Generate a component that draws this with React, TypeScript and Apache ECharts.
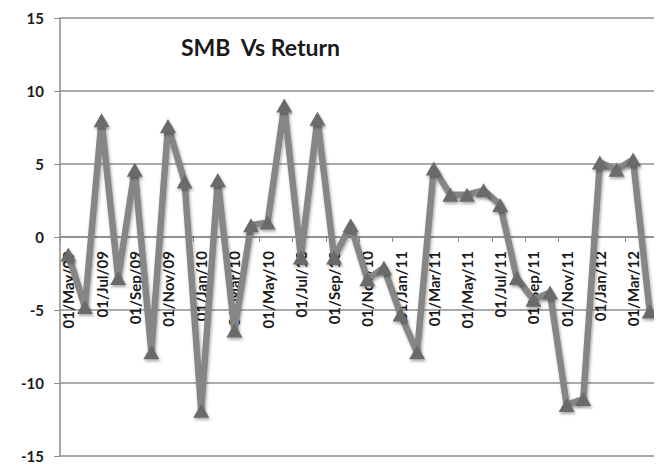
import React, { useEffect, useRef } from "react";
import * as echarts from "echarts";

const categories: string[] = [
  "01/May/09", "01/Jun/09", "01/Jul/09", "01/Aug/09", "01/Sep/09", "01/Oct/09",
  "01/Nov/09", "01/Dec/09", "01/Jan/10", "01/Feb/10", "01/Mar/10", "01/Apr/10",
  "01/May/10", "01/Jun/10", "01/Jul/10", "01/Aug/10", "01/Sep/10", "01/Oct/10",
  "01/Nov/10", "01/Dec/10", "01/Jan/11", "01/Feb/11", "01/Mar/11", "01/Apr/11",
  "01/May/11", "01/Jun/11", "01/Jul/11", "01/Aug/11", "01/Sep/11", "01/Oct/11",
  "01/Nov/11", "01/Dec/11", "01/Jan/12", "01/Feb/12", "01/Mar/12", "01/Apr/12",
];

const smbValues: number[] = [
  -1.2, -4.8, 8.0, -2.8, 4.6, -7.9,
  7.6, 3.8, -11.9, 3.9, -6.4, 0.8,
  1.0, 9.0, -1.4, 8.1, -1.4, 0.8,
  -2.9, -2.1, -5.3, -7.9, 4.7, 2.9,
  2.9, 3.2, 2.2, -2.8, -4.3, -3.8,
  -11.5, -11.1, 5.1, 4.6, 5.3, -5.1,
];

const yTicks = { min: -15, max: 15, interval: 5 };

const GRID_TOP = 10;
const GRID_BOTTOM = 8;
const CHART_H = 456;

export default function App() {
  const ref = useRef<HTMLDivElement>(null);
  useEffect(() => {
    if (!ref.current) return;
    const chart = echarts.init(ref.current, undefined, { renderer: "svg" });
    const plotH = CHART_H - GRID_TOP - GRID_BOTTOM;
    const zeroFromBottom = (plotH * (0 - yTicks.min)) / (yTicks.max - yTicks.min);
    chart.setOption({
      animation: false,
      backgroundColor: "#ffffff",
      title: {
        text: "SMB  Vs Return",
        left: 168,
        top: 22,
        textStyle: {
          fontFamily: "Lato",
          fontWeight: "bold",
          fontSize: 23,
          color: "#1a1a1a",
        },
      },
      grid: {
        left: 52,
        right: 4,
        top: GRID_TOP,
        bottom: GRID_BOTTOM,
        containLabel: false,
        outerBoundsMode: "none",
      },
      xAxis: {
        type: "category",
        data: categories,
        boundaryGap: true,
        position: "bottom",
        offset: -zeroFromBottom,
        axisLine: {
          onZero: false,
          lineStyle: { color: "#8a8a8a", width: 1.5 },
        },
        axisTick: { show: true, interval: 1, length: 5, lineStyle: { color: "#8a8a8a" } },
        axisLabel: {
          interval: 1,
          rotate: 90,
          margin: 14,
          fontFamily: "Lato",
          fontWeight: "bold",
          fontSize: 15,
          color: "#1a1a1a",
        },
        splitLine: { show: false },
      },
      yAxis: {
        type: "value",
        min: yTicks.min,
        max: yTicks.max,
        interval: yTicks.interval,
        axisLine: { show: true, lineStyle: { color: "#8a8a8a", width: 1.5 } },
        axisTick: { show: true, length: 6, lineStyle: { color: "#8a8a8a" } },
        axisLabel: {
          margin: 16,
          fontFamily: "Lato",
          fontWeight: "bold",
          fontSize: 15,
          color: "#1a1a1a",
        },
        splitLine: { show: true, lineStyle: { color: "#8f8f8f", width: 1.5 } },
      },
      series: [
        {
          type: "line",
          data: smbValues,
          symbol: "triangle",
          symbolSize: [16, 14],
          showAllSymbol: true,
          lineStyle: {
            color: "#868686",
            width: 6.5,
            shadowColor: "rgba(0,0,0,0.35)",
            shadowBlur: 3,
            shadowOffsetX: 1,
            shadowOffsetY: 2,
          },
          itemStyle: {
            color: "#6a6a6a",
            shadowColor: "rgba(0,0,0,0.35)",
            shadowBlur: 3,
            shadowOffsetX: 1,
            shadowOffsetY: 2,
          },
        },
      ],
    });
    return () => chart.dispose();
  }, []);
  return <div ref={ref} style={{ width: 654, height: CHART_H }} />;
}
